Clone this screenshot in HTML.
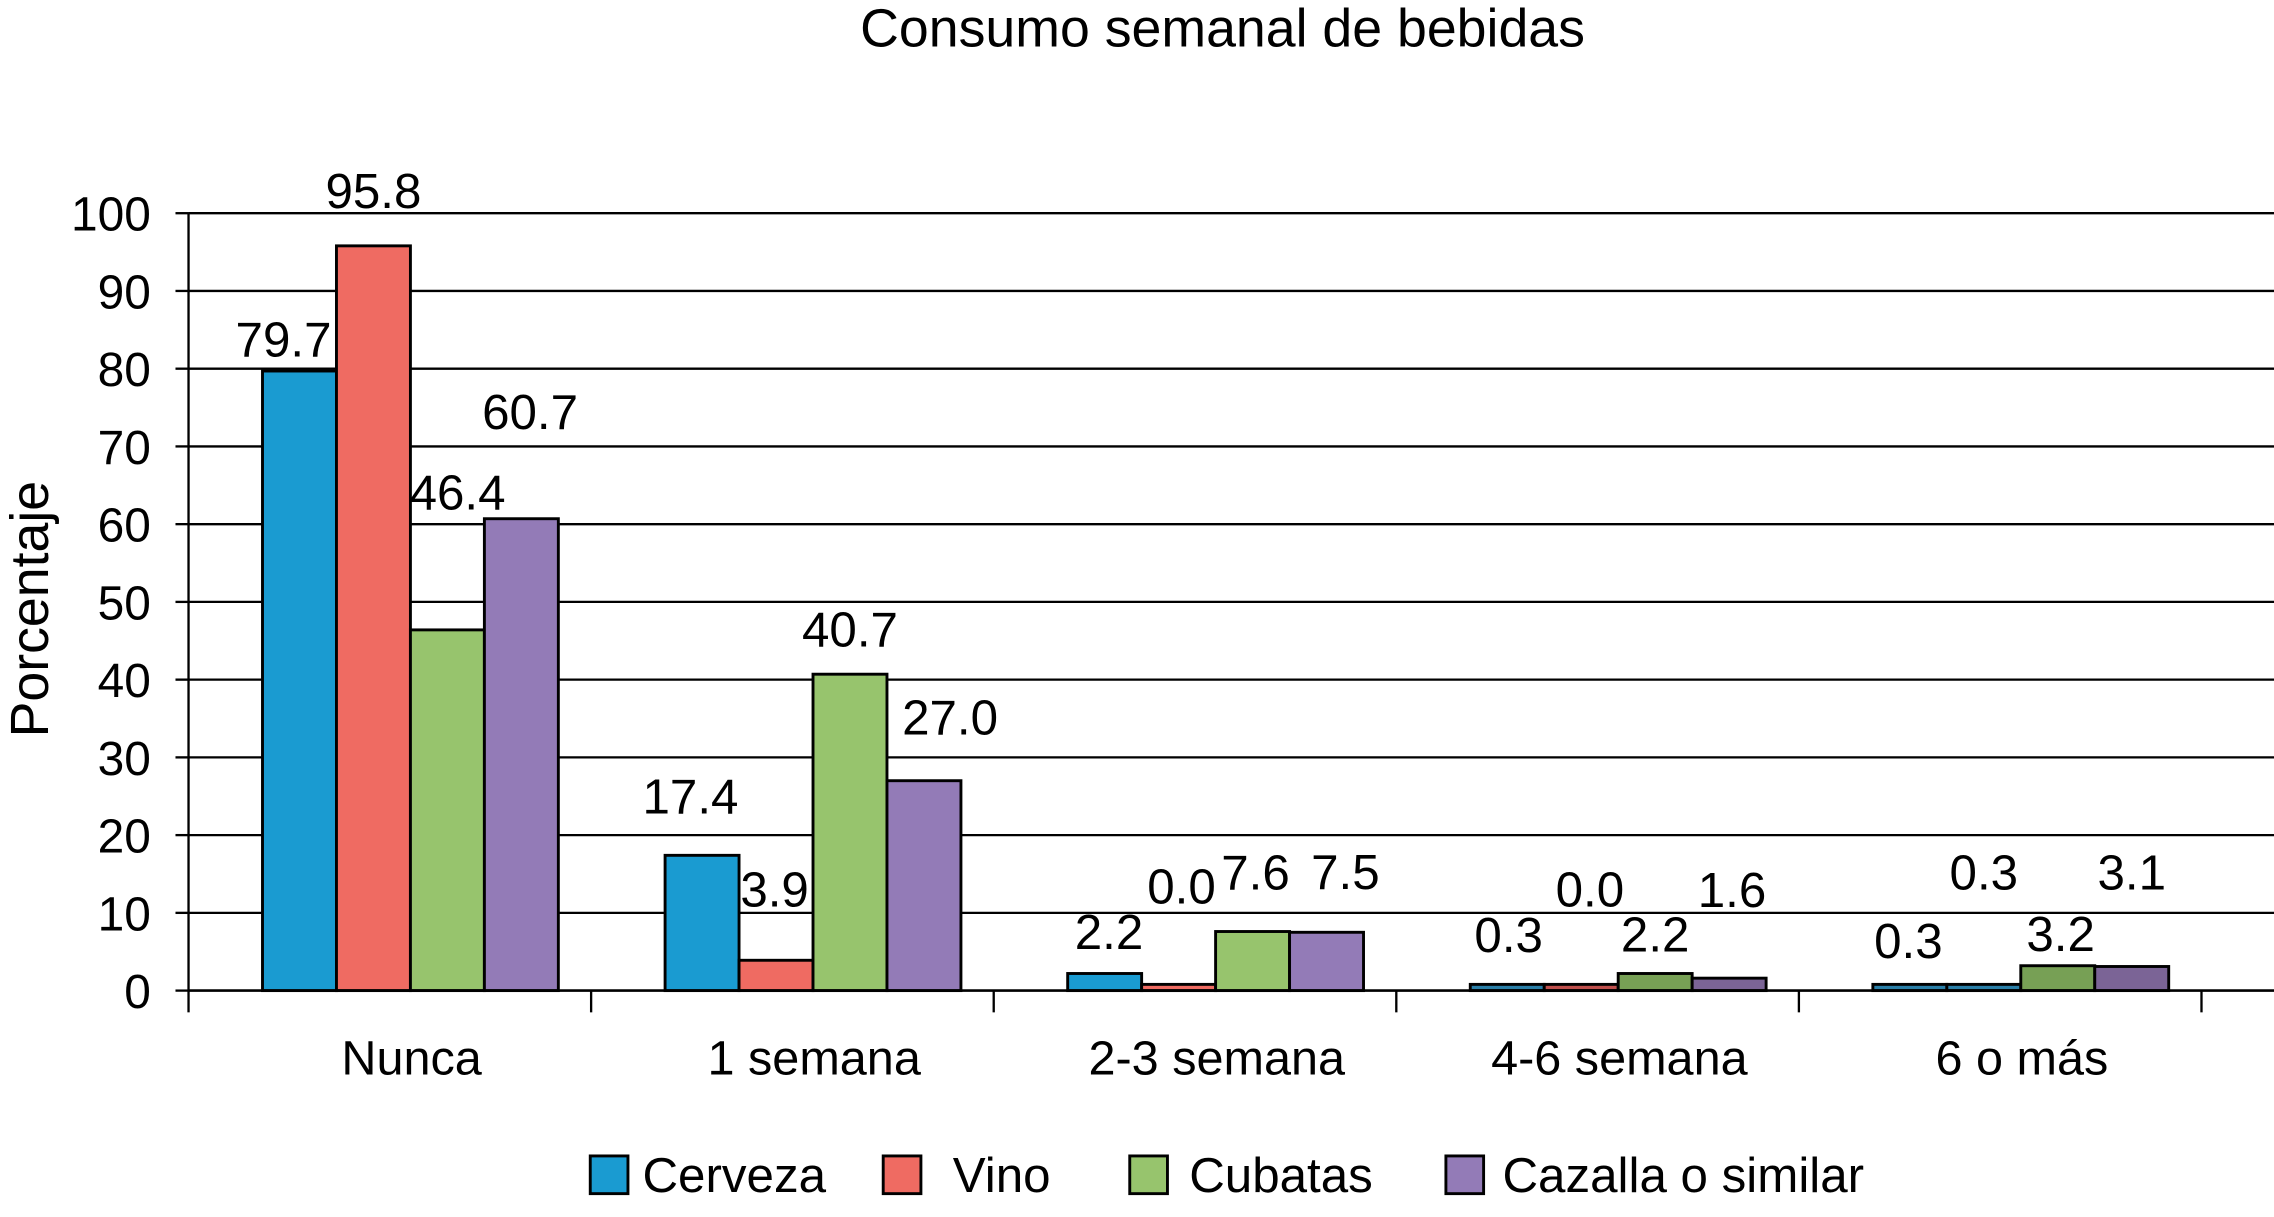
<!DOCTYPE html>
<html><head><meta charset="utf-8"><style>
html,body{margin:0;padding:0;background:#fff;}
svg{display:block;font-family:"Liberation Sans",Arial,sans-serif;}
</style></head><body>
<svg id="chart" width="2274" height="1217" viewBox="0 0 1568 839.1" preserveAspectRatio="none" xmlns="http://www.w3.org/2000/svg">
<text x="843" y="32" font-size="37" text-anchor="middle">Consumo semanal de bebidas</text>
<text transform="translate(33,420) rotate(-90)" font-size="37" text-anchor="middle">Porcentaje</text>
<g id="grid"></g><g id="bars"></g><g id="labels"></g><g id="axes"></g>
<g>
<rect x="407" y="797" width="26" height="26" fill="#1a9bd1" stroke="#000" stroke-width="2"/>
<text x="443" y="822" font-size="34">Cerveza</text>
<rect x="609" y="797" width="26" height="26" fill="#ef6b62" stroke="#000" stroke-width="2"/>
<text x="657" y="822" font-size="34">Vino</text>
<rect x="779" y="797" width="26" height="26" fill="#97c46d" stroke="#000" stroke-width="2"/>
<text x="820" y="822" font-size="34">Cubatas</text>
<rect x="997" y="797" width="26" height="26" fill="#937bb7" stroke="#000" stroke-width="2"/>
<text x="1036" y="822" font-size="34">Cazalla o similar</text>
</g>
</svg>
<script>
const categories = ["Nunca","1 semana","2-3 semana","4-6 semana","6 o más"];
const cerveza = [79.7,17.4,2.2,0.3,0.3];
const vino = [95.8,3.9,0.0,0.0,0.3];
const cubatas = [46.4,40.7,7.6,2.2,3.2];
const cazalla = [60.7,27.0,7.5,1.6,3.1];
const yTicks = [0,10,20,30,40,50,60,70,80,90,100];

const NS="http://www.w3.org/2000/svg";
const X0=130, X1=1568, Y0=683, Y100=147, CW=277.6, BW=51, GOFF=51;
const y=v=>Y0-(v/100)*(Y0-Y100);
const series=[cerveza,vino,cubatas,cazalla];
const seriesNames=["cerveza","vino","cubatas","cazalla"];
const light=["#1a9bd1","#ef6b62","#97c46d","#937bb7"];
const dark=["#2a7fa8","#c0504d","#77a055","#7b6496"];
const nudges=[
 [[-11,-11],[-8,-30],[3,-18],[1,-26],[-1,-22]],
 [[0,-27],[-1,-38],[2,-61],[6,-59],[0,-69]],
 [[7,-84],[0,-20],[2,-30],[0,-16],[2,-11]],
 [[6,-63],[18,-33],[13,-31],[2,-50],[0,-54]]
];
function el(tag,attrs,parent){const e=document.createElementNS(NS,tag);for(const k in attrs)e.setAttribute(k,attrs[k]);parent.appendChild(e);return e;}
const grid=document.getElementById('grid'),bars=document.getElementById('bars'),labels=document.getElementById('labels'),axes=document.getElementById('axes');
yTicks.forEach(t=>{
  if(t>0){const g=el('line',{x1:X0,x2:X1,y1:y(t),y2:y(t),stroke:'#000','stroke-width':1.6},grid);
  
  }
  const tk=el('line',{x1:X0-9,x2:X0,y1:y(t),y2:y(t),stroke:'#000','stroke-width':1.6},axes);
  
  
  const tl=el('text',{x:104,y:y(t)+12,'font-size':33,'text-anchor':'end'},axes);
  tl.textContent=t;
  
  
});
categories.forEach((c,i)=>{
  const cx0=X0+CW*i;
  series.forEach((s,j)=>{
    const v=s[i];const top=y(Math.max(v,0.8));
    let fill=i>=3?dark[j]:light[j];
    if(i===4&&j===1)fill=dark[0];
    const r=el('rect',{x:cx0+GOFF+BW*j,y:top,width:BW,height:Y0-top,fill:fill,stroke:'#000','stroke-width':2},bars);
    
    
    const n=nudges[j][i];
    const lt=el('text',{x:cx0+GOFF+BW*j+BW/2+n[0],y:y(v)+n[1]+1,'font-size':34,'text-anchor':'middle'},labels);
    lt.textContent=v.toFixed(1);
    
    
  });
  const cl=el('text',{x:cx0+CW/2+15,y:741,'font-size':33.5,'text-anchor':'middle'},axes);
  cl.textContent=c;
  
  
});
for(let i=0;i<=5;i++){const t=el('line',{x1:X0+CW*i,x2:X0+CW*i,y1:Y0,y2:698,stroke:'#000','stroke-width':1.6},axes);

}
const ya=el('line',{x1:X0,x2:X0,y1:Y100,y2:Y0,stroke:'#000','stroke-width':1.6},axes);


const xa=el('line',{x1:X0,x2:X1,y1:Y0,y2:Y0,stroke:'#000','stroke-width':1.8},axes);


</script>
</body></html>
